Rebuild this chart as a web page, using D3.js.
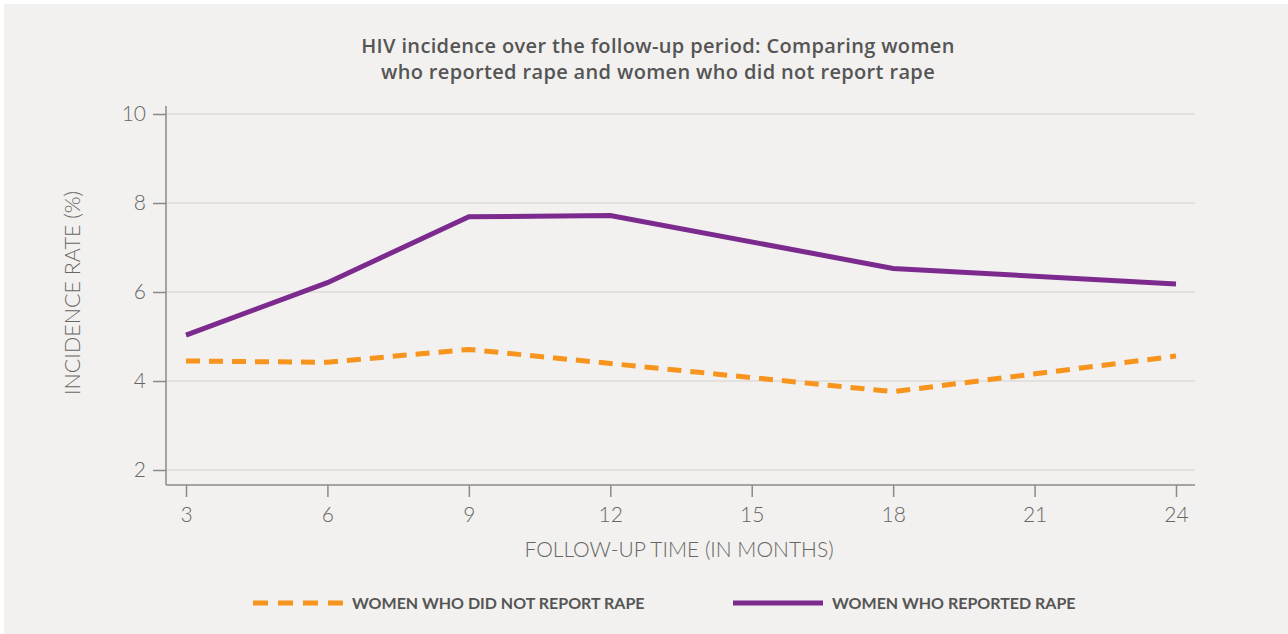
<!DOCTYPE html>
<html>
<head>
<meta charset="utf-8">
<script src="https://cdn.jsdelivr.net/npm/d3@7"></script>
<style>
  body { margin: 0; background: #fff; }
  svg { display: block; font-family: Lato, 'Open Sans', sans-serif; }
  .tick text { font-size: 21px; fill: #666; font-weight: 300; font-family: Lato, sans-serif; }
</style>
</head>
<body>
<svg id="chart"></svg>
<script>
const months = [3, 6, 9, 12, 15, 18, 21, 24]
const yTicks = [2, 4, 6, 8, 10]

// women who reported rape
const reportedMonths = [3, 6, 9, 12, 18, 24]
const reportedRates = [5.03, 6.21, 7.69, 7.72, 6.53, 6.18]

// women who did not report rape
const notReportedMonths = [3, 6, 9, 18, 24]
const notReportedRates = [4.45, 4.42, 4.71, 3.76, 4.56]

const width = 1288
const height = 634

const svg = d3.select('#chart').attr('width', width).attr('height', height)

svg.append('rect')
  .attr('x', 4).attr('y', 4)
  .attr('width', width - 4).attr('height', height - 4)
  .attr('fill', '#f2f1ef')

const x = d3.scaleLinear()
  .domain([3, 24])
  .range([186, 1176])

const y = d3.scaleLinear()
  .domain([2, 10])
  .range([470, 114])

const plotLeft = 166
const plotRight = 1195
const axisY = 485

// gridlines
svg.append('g')
  .selectAll('line')
  .data(yTicks)
  .enter().append('line')
  .attr('x1', plotLeft).attr('x2', plotRight)
  .attr('y1', d => y(d)).attr('y2', d => y(d))
  .attr('stroke', '#dcdbd9')
  .attr('stroke-width', 1.5)

// Y axis
const yAxis = svg.append('g')
  .attr('transform', `translate(${plotLeft},0)`)
  .call(d3.axisLeft(y).tickValues(yTicks).tickSize(13).tickPadding(7))
yAxis.select('.domain').remove()
yAxis.selectAll('.tick line').attr('stroke', '#8a8a8a').attr('stroke-width', 1.5)
svg.append('line')
  .attr('x1', plotLeft).attr('x2', plotLeft)
  .attr('y1', 106).attr('y2', axisY)
  .attr('stroke', '#8a8a8a').attr('stroke-width', 1.5)

// X axis
const xAxis = svg.append('g')
  .attr('transform', `translate(0,${axisY})`)
  .call(d3.axisBottom(x).tickValues(months).tickSize(12).tickPadding(10))
xAxis.select('.domain').remove()
xAxis.selectAll('.tick line').attr('stroke', '#8a8a8a').attr('stroke-width', 1.5)
svg.append('line')
  .attr('x1', plotLeft).attr('x2', plotRight)
  .attr('y1', axisY).attr('y2', axisY)
  .attr('stroke', '#8a8a8a').attr('stroke-width', 1.5)

// axis titles
svg.append('text')
  .attr('x', 679).attr('y', 557)
  .attr('text-anchor', 'middle')
  .attr('font-size', 21).attr('font-weight', 300).attr('fill', '#666')
  .text('FOLLOW-UP TIME (IN MONTHS)')

svg.append('text')
  .attr('transform', 'translate(80,293) rotate(-90)')
  .attr('text-anchor', 'middle')
  .attr('font-size', 21.5).attr('font-weight', 300).attr('fill', '#666')
  .text('INCIDENCE RATE (%)')

// title
const title = svg.append('text')
  .attr('text-anchor', 'middle')
  .attr('font-family', "'Open Sans', sans-serif")
  .attr('font-size', 20).attr('font-weight', 600).attr('fill', '#555')
  .attr('letter-spacing', 0.35)
title.append('tspan').attr('x', 658).attr('y', 53)
  .text('HIV incidence over the follow-up period: Comparing women')
title.append('tspan').attr('x', 658).attr('y', 79)
  .text('who reported rape and women who did not report rape')

// lines
const line = d3.line()
  .x(d => x(d[0]))
  .y(d => y(d[1]))

svg.append('path')
  .datum(d3.zip(notReportedMonths, notReportedRates))
  .attr('d', line)
  .attr('fill', 'none')
  .attr('stroke', '#f7941d')
  .attr('stroke-width', 5)
  .attr('stroke-dasharray', '14,9')

svg.append('path')
  .datum(d3.zip(reportedMonths, reportedRates))
  .attr('d', line)
  .attr('fill', 'none')
  .attr('stroke', '#7d2a8f')
  .attr('stroke-width', 5)

// legend
const legend = svg.append('g').attr('font-size', 16).attr('font-weight', 700).attr('fill', '#555')
legend.append('line')
  .attr('x1', 253).attr('x2', 343).attr('y1', 603).attr('y2', 603)
  .attr('stroke', '#f7941d').attr('stroke-width', 5)
  .attr('stroke-dasharray', '15,10')
legend.append('text').attr('x', 352).attr('y', 609)
  .text('WOMEN WHO DID NOT REPORT RAPE')
legend.append('line')
  .attr('x1', 733).attr('x2', 823).attr('y1', 603).attr('y2', 603)
  .attr('stroke', '#7d2a8f').attr('stroke-width', 5)
legend.append('text').attr('x', 832).attr('y', 609)
  .text('WOMEN WHO REPORTED RAPE')
</script>
</body>
</html>
